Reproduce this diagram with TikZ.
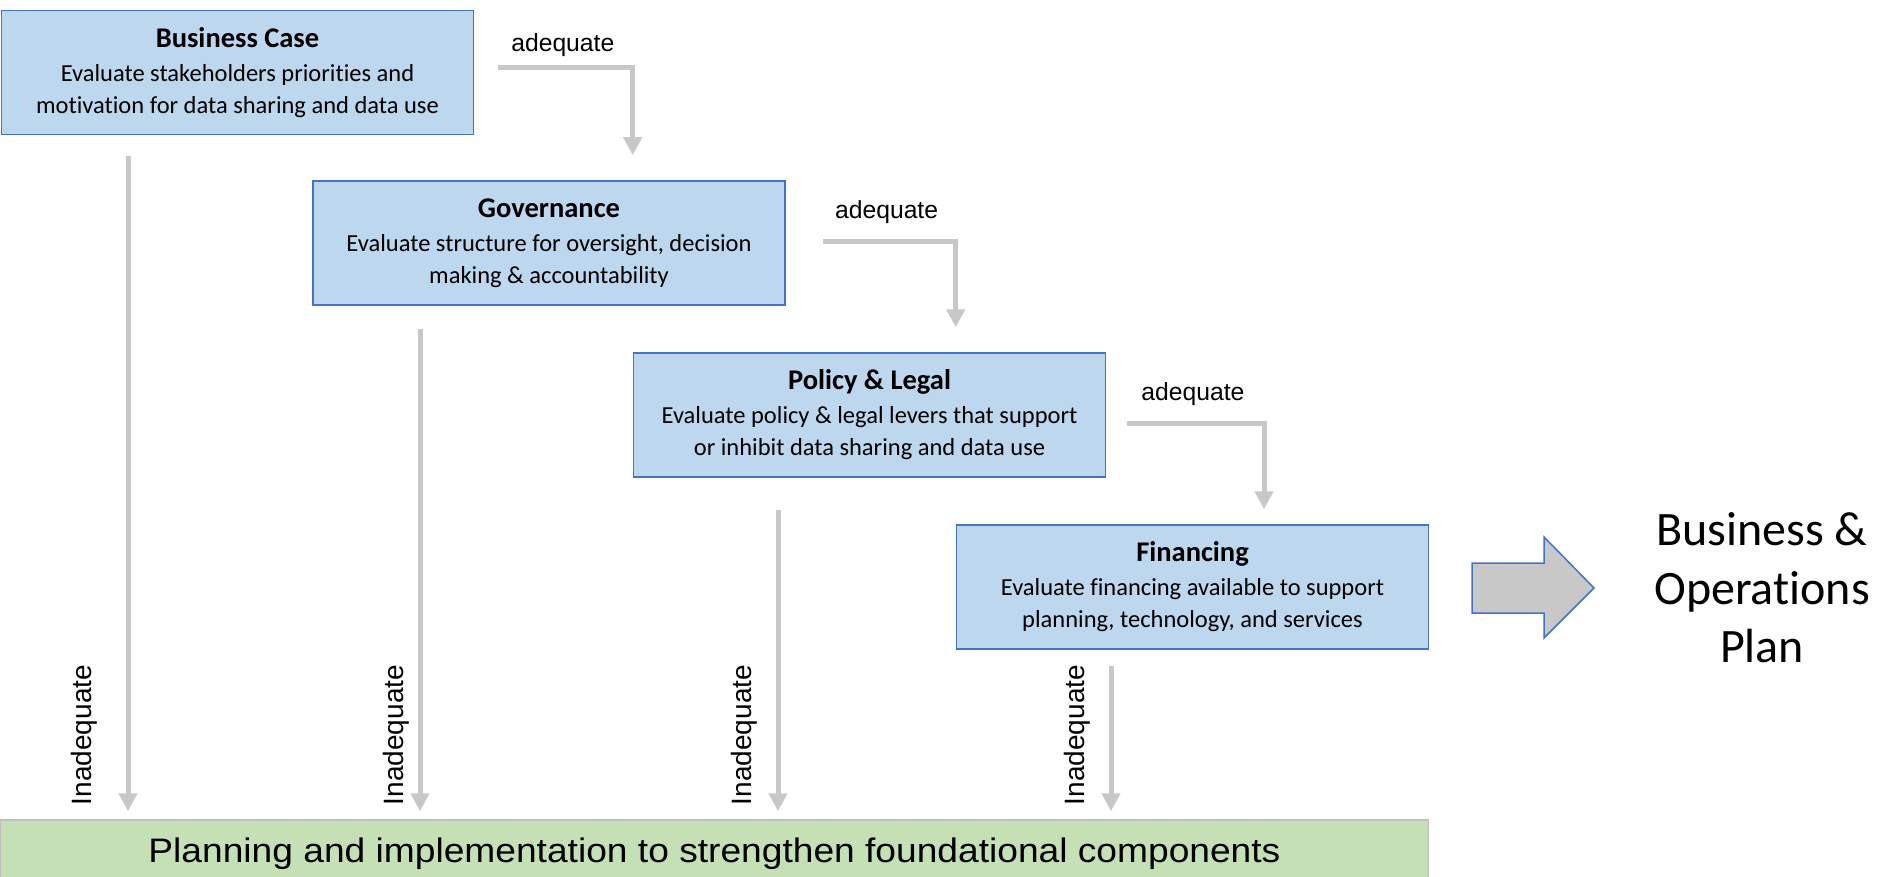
\documentclass[tikz,border=0pt]{standalone}
\usepackage{fontspec}
\setmainfont{Carlito}[Ligatures=NoCommon, RawFeature={-liga;-clig;-calt}]
\newfontfamily\arialfont{Liberation Sans}
\usepackage{graphicx}
\usepackage{tikz}
\usetikzlibrary{arrows.meta, positioning}
\definecolor{boxfill}{HTML}{BDD7EE}
\definecolor{boxline}{HTML}{4472C4}
\definecolor{planfill}{HTML}{C5E0B4}
\definecolor{planline}{HTML}{BFBFBF}
\definecolor{flowgray}{HTML}{C8C8C8}
\newcommand{\stagetitle}[1]{{\fontsize{28.5}{32}\selectfont\bfseries #1}}
\tikzstyle{stage} = [draw=boxline, fill=boxfill, line width=1.5pt, minimum width=472pt, minimum height=124pt, inner sep=0pt, align=center, font=\fontsize{24.5}{32}\selectfont]
\tikzstyle{flow} = [draw=flowgray, line width=5pt, -{Triangle[width=18pt,length=18pt]}]

\begin{document}
\begin{tikzpicture}[
    x=1pt, y=-1pt,
    okay/.style={font=\arialfont\fontsize{24.7}{28}\selectfont, text=black},
    notokay/.style={font=\arialfont\fontsize{28}{32}\selectfont, rotate=90, inner sep=0pt},
    bigarrow/.style={draw=boxline, fill=flowgray, line width=1.5pt}
]
\useasboundingbox (0,0) rectangle (1878,877);

% Nodes
\node (case) [stage] at (237.5,72.5) {\stagetitle{Business Case}\\[2pt]Evaluate stakeholders priorities and\\motivation for data sharing and data use};
\node (gov) [stage] at (549,243) {\stagetitle{Governance}\\[2pt]Evaluate structure for oversight, decision\\making \& accountability};
\node (pol) [stage] at (869.5,415) {\stagetitle{Policy \& Legal}\\[2pt]Evaluate policy \& legal levers that support\\or inhibit data sharing and data use};
\node (fin) [stage] at (1192.5,587) {\stagetitle{Financing}\\[2pt]Evaluate financing available to support\\planning, technology, and services};
\node (plan) [draw=planline, fill=planfill, line width=1.5pt, minimum width=1428pt, minimum height=58pt, inner sep=0pt, text height=26pt, text depth=0pt, font=\arialfont\fontsize{34}{40}\selectfont] at (714.5,849) {\resizebox{1132pt}{\height}{Planning and implementation to strengthen foundational components}};
\node (outcome) [align=center, font=\fontsize{48}{58.5}\selectfont] at (1762,588) {Business \&\\Operations\\Plan};

% Block arrow
\draw [bigarrow] (1472,563) -- (1544,563) -- (1544,537) -- (1594,588) -- (1544,638) -- (1544,613) -- (1472,613) -- cycle;

% Arrows (adequate)
\draw [flow, shorten >=25pt] ([xshift=24pt, yshift=4.5pt]case.east) -| (pol.west |- gov.north) node[okay, pos=0.24, above=6pt] {adequate};
\draw [flow, shorten >=25pt] ([xshift=37pt, yshift=1pt]gov.east) -| (fin.west |- pol.north) node[okay, pos=0.24, above=13pt] {adequate};
\draw [flow, shorten >=15pt] ([xshift=21pt, yshift=-8pt]pol.east) -| ([xshift=71.5pt]fin.north) node[okay, pos=0.24, above=12pt] {adequate};

% Arrows (inadequate)
\coordinate (caseout) at (128,156);
\coordinate (govout) at (420,329);
\coordinate (polout) at (778,510);
\coordinate (finout) at (1111,666);
\draw [flow, shorten >=8pt] (caseout) -- (caseout |- plan.north);
\draw [flow, shorten >=8pt] (govout) -- (govout |- plan.north);
\draw [flow, shorten >=8pt] (polout) -- (polout |- plan.north);
\draw [flow, shorten >=8pt] (finout) -- (finout |- plan.north);
\node (caselab) [notokay] at (84,735) {Inadequate};
\node (govlab) [notokay] at (396,735) {Inadequate};
\node (pollab) [notokay] at (744,735) {Inadequate};
\node (finlab) [notokay] at (1077,735) {Inadequate};

\end{tikzpicture}
\end{document}
